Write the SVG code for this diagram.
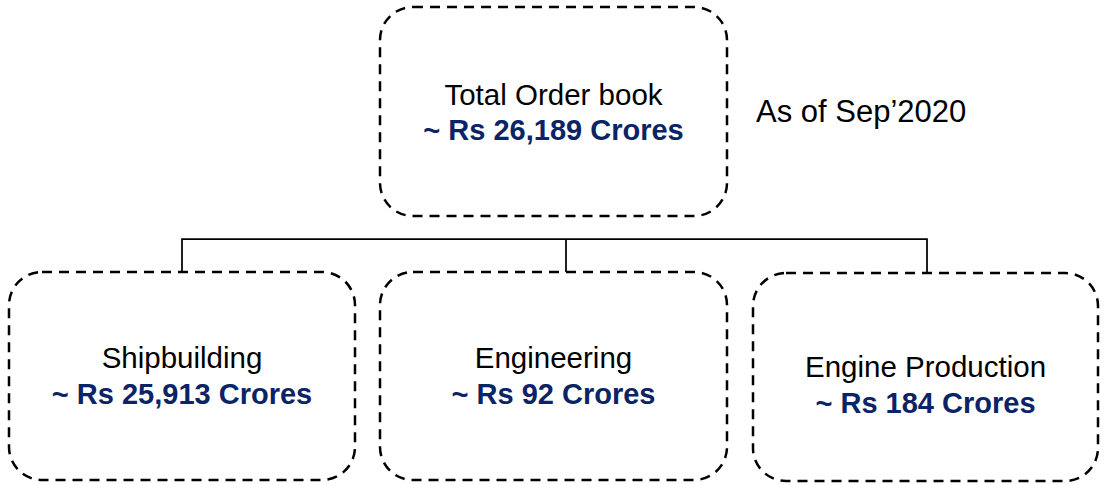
<svg xmlns="http://www.w3.org/2000/svg" width="1119" height="485" viewBox="0 0 1119 485">
  <style>
    .box { fill: #ffffff; stroke: #000000; stroke-width: 2.5; stroke-dasharray: 10 7; }
    .lbl { font-family: "Liberation Sans", Arial, sans-serif; font-size: 29.5px; fill: #000000; text-anchor: middle; }
    .val { font-family: "Liberation Sans", Arial, sans-serif; font-size: 29px; font-weight: bold; fill: #0a2466; text-anchor: middle; }
    .conn { fill: none; stroke: #000000; stroke-width: 1.75; }
  </style>
  <rect width="1119" height="485" fill="#ffffff"/>
  <g id="connectors">
    <path class="conn" d="M182 272 V239 H927 V273"/>
    <path class="conn" d="M566 239 V272"/>
  </g>
  <g id="node-total">
    <rect class="box" x="380" y="7" width="347" height="209" rx="33" ry="33"/>
    <text class="lbl" x="553.5" y="105">Total Order book</text>
    <text class="val" x="553.5" y="140">~ Rs 26,189 Crores</text>
  </g>
  <g id="note">
    <text font-family="Liberation Sans, Arial, sans-serif" font-size="31" fill="#000000" x="756" y="122">As of Sep’2020</text>
  </g>
  <g id="node-shipbuilding">
    <rect class="box" x="9" y="272" width="346" height="208" rx="33" ry="33"/>
    <text class="lbl" x="182" y="368">Shipbuilding</text>
    <text class="val" x="182" y="404">~ Rs 25,913 Crores</text>
  </g>
  <g id="node-engineering">
    <rect class="box" x="380" y="272" width="347" height="208" rx="33" ry="33"/>
    <text class="lbl" x="553.5" y="368">Engineering</text>
    <text class="val" x="553.5" y="404">~ Rs 92 Crores</text>
  </g>
  <g id="node-engine">
    <rect class="box" x="753" y="273" width="345" height="208" rx="33" ry="33"/>
    <text class="lbl" x="925.5" y="377">Engine Production</text>
    <text class="val" x="925.5" y="413">~ Rs 184 Crores</text>
  </g>
</svg>
